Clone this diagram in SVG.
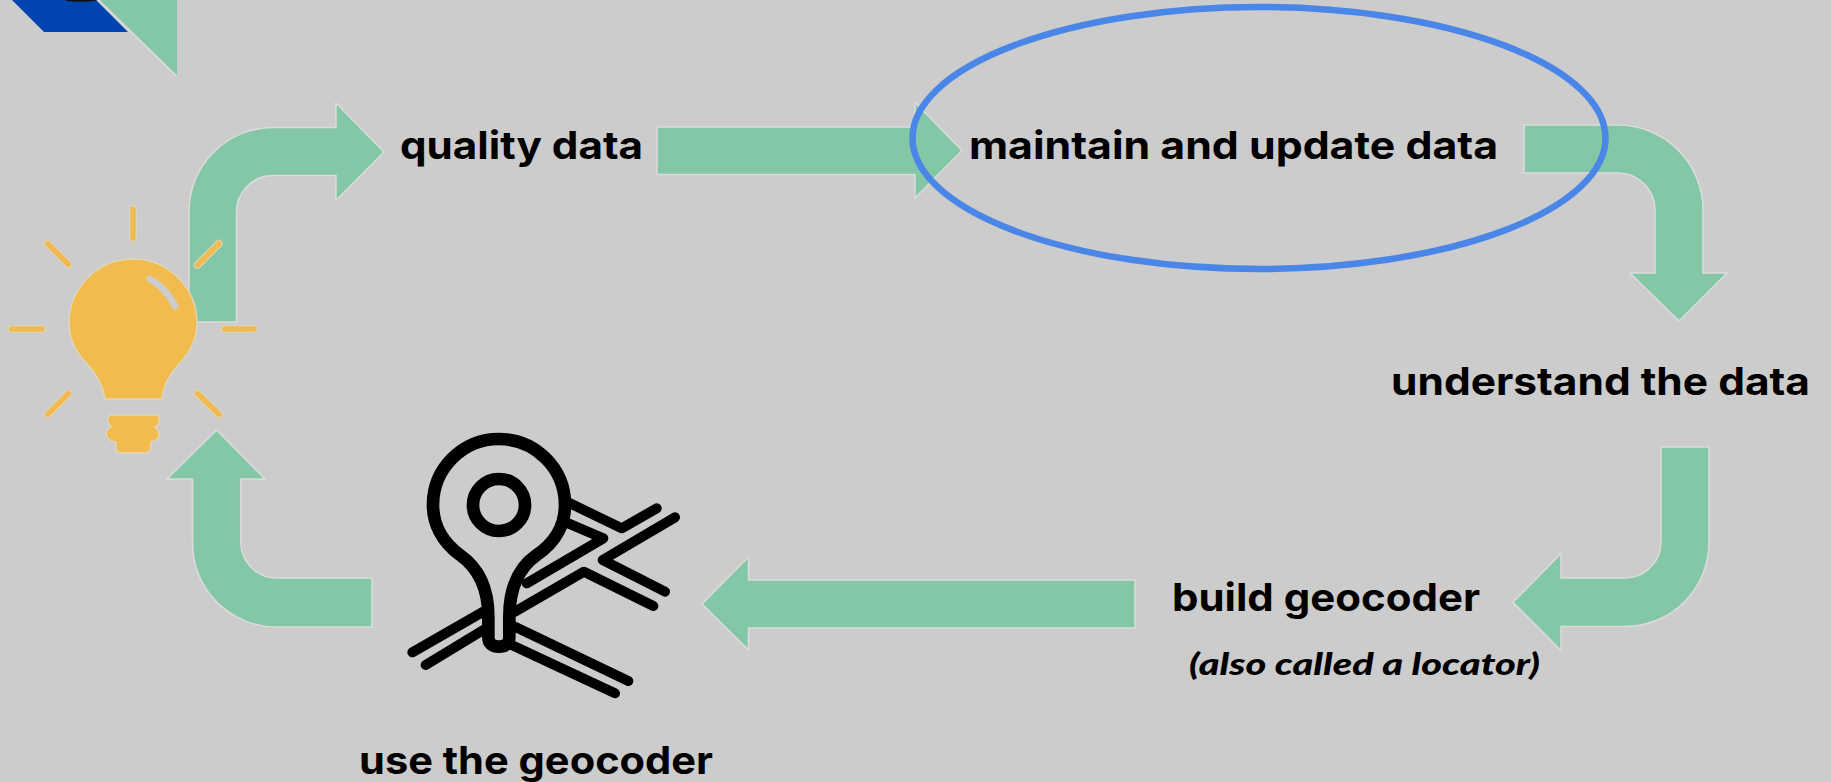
<svg xmlns="http://www.w3.org/2000/svg" width="1831" height="782" viewBox="0 0 1831 782">
<style>
.arrow{fill:#83c7a6;stroke:#dcdcdc;stroke-width:1.5}
.lbl{font-family:Inter,"Open Sans","Liberation Sans",sans-serif;font-weight:700;font-size:38px;fill:#000}
.note{font-family:Lato,"Open Sans","Liberation Sans",sans-serif;font-weight:900;font-style:italic;font-size:31px;fill:#000}
.halo{stroke:#dfd6bd;stroke-width:7.500;stroke-linecap:round;fill:none}
.ray{stroke:#f0ba50;stroke-width:5.500;stroke-linecap:round;fill:none}
.bulb{fill:#f2bb4e;stroke:#dfd6bd;stroke-width:1.5}
.ic{fill:none;stroke:#000;stroke-linecap:round;stroke-linejoin:round}
</style>
<rect width="1831" height="782" fill="#cccccc"/>
<g id="corner-logo">
<path d="M12 0L44 32H128L96 0Z" fill="#0044b0"/>
<ellipse cx="81" cy="0" rx="16" ry="1.800" fill="#111"/>
<path d="M100 0L177 75V0Z" fill="#83c7a6"/>
<path d="M98 0L176 76" fill="none" stroke="#dcdcdc" stroke-width="1.5"/>
</g>
<g id="connectors">
<path class="arrow" d="M189 322V211A84 84 0 0 1 273 127.500H336V103L384 152L336 200.500V175.500H273A36.500 36.500 0 0 0 236.500 212V322Z"/>
<path class="arrow" d="M657 127H915V102.500L962 150.500L915 198V174.500H657Z"/>
<path class="arrow" d="M1524 125H1618A85 85 0 0 1 1703 210V273H1727L1679 321L1630 273H1655V210A37 37 0 0 0 1618 173H1524Z"/>
<path class="arrow" d="M1661 447H1709V542A84 84 0 0 1 1625 626.500H1561V650.500L1513 602.300L1561 553.500V578H1625A36 36 0 0 0 1661 542Z"/>
<path class="arrow" d="M1135 580V628H748.500V650L702 604L748.500 557V580Z"/>
<path class="arrow" d="M372 578V627H276.500A84 84 0 0 1 192.500 543V479H167L216.700 430L265 479H240.700V541.500A36 36 0 0 0 276.700 578Z"/>
</g>
<g id="bulb">
<path class="bulb" d="M105 399C103 385 97 375 88 365C76 353 69 340 69 323A64 64 0 0 1 197 323C197 340 190 353 178 365C169 375 163 385 162 399Z"/>
<path class="bulb" d="M110 415H156Q161 415 159 423Q157 427 155 427Q160 430 159 436Q157 441 151 442V447Q150 453 145 453H121Q116 453 116 447V442Q107 441 106 434Q106 429 111 427Q105 420 110 415Z"/>
<path d="M150 279C161 285 169 294 175 306" fill="none" stroke="#cccccc" stroke-width="7" stroke-linecap="round"/>
<path class="halo" d="M133 209V238M47.500 243.500L68.500 264.500M219 243.500L197.500 265M11.500 329H42M224.500 329H254M47.500 414.500L68.500 393.500M219 414.500L197.500 393.500"/>
<path class="ray" d="M133 209V238M47.500 243.500L68.500 264.500M219 243.500L197.500 265M11.500 329H42M224.500 329H254M47.500 414.500L68.500 393.500M219 414.500L197.500 393.500"/>
</g>
<g id="geocoder-icon" transform="translate(380 420) scale(.33333)">
<path class="ic" stroke-width="30" d="M570 250L725 325L830 265M885 292L668 420L855 515M565 310L670 355L440 490M405 575L612 455L820 558M310 575L97 697M310 630L137 735M405 620L745 783M395 675L705 820"/>
<path class="ic" stroke-width="38" d="M325 650Q325 680 357 680Q388 680 388 650V590C388 500 420 440 470 405C530 365 555 310 555 255A198 198 0 0 0 159 255C159 310 185 365 240 405C290 440 325 500 325 590Z" style="fill:#cccccc"/>
<circle class="ic" cx="357" cy="255" r="78" stroke-width="38"/>
</g>
<g id="maintain-ellipse"><ellipse cx="1259" cy="138" rx="346.500" ry="131" fill="none" stroke="#4a86e8" stroke-width="6.500"/></g>
<g id="quality-data"><text class="lbl" x="400" y="158.500" textLength="243" lengthAdjust="spacingAndGlyphs">quality data</text></g>
<g id="maintain-data"><text class="lbl" x="969" y="158.500" textLength="529" lengthAdjust="spacingAndGlyphs">maintain and update data</text></g>
<g id="understand-data"><text class="lbl" x="1391" y="394.500" textLength="419" lengthAdjust="spacingAndGlyphs">understand the data</text></g>
<g id="build-geocoder"><text class="lbl" x="1172" y="611" textLength="308" lengthAdjust="spacingAndGlyphs">build geocoder</text>
<text class="note" x="1189" y="675" textLength="351" lengthAdjust="spacingAndGlyphs">(also called a locator)</text></g>
<g id="use-geocoder"><text class="lbl" x="359" y="773.500" textLength="354" lengthAdjust="spacingAndGlyphs">use the geocoder</text></g>
</svg>
